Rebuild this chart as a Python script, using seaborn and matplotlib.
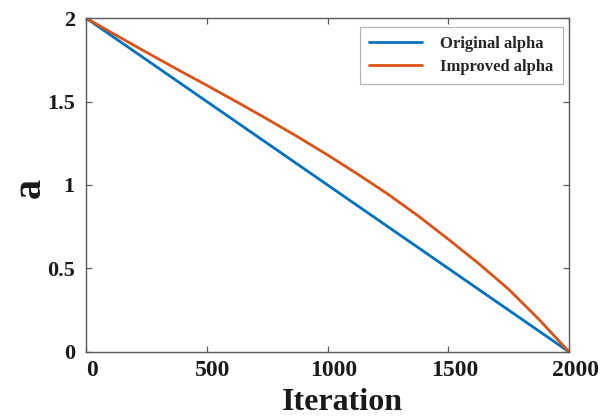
import matplotlib
matplotlib.use("Agg")
import matplotlib.pyplot as plt
from matplotlib.transforms import ScaledTranslation
import pandas as pd
import seaborn as sns

# Control parameter a over the iterations
iter_original = [0, 500, 1000, 1500, 2000]
a_original = [2.0, 1.5, 1.0, 0.5, 0.0]

iter_improved = [0, 125, 250, 375, 500, 625, 750, 875, 1000, 1125, 1250,
                 1375, 1500, 1625, 1750, 1875, 2000]
a_improved = [2.0, 1.897, 1.795, 1.695, 1.597, 1.497, 1.395, 1.29, 1.18,
              1.065, 0.945, 0.815, 0.675, 0.53, 0.375, 0.195, 0.0]

series_names = ["Original alpha", "Improved alpha"]
series_colors = ["#0072BD", "#D95319"]

xticks = [0, 500, 1000, 1500, 2000]
yticks = [0, 0.5, 1, 1.5, 2]
ytick_labels = ["0", "0.5", "1", "1.5", "2"]

df = pd.concat([
    pd.DataFrame({"Iteration": iter_original, "a": a_original, "series": series_names[0]}),
    pd.DataFrame({"Iteration": iter_improved, "a": a_improved, "series": series_names[1]}),
], ignore_index=True)

sns.set_style("white")
plt.rcParams["font.family"] = ["Liberation Serif", "DejaVu Serif"]
plt.rcParams["font.weight"] = "bold"

fig = plt.figure(figsize=(6.14, 4.19), dpi=100)
ax = fig.add_axes([0.140, 0.160, 0.787, 0.797])

sns.lineplot(data=df, x="Iteration", y="a", hue="series", hue_order=series_names,
             palette=series_colors, linewidth=2.0, ax=ax, estimator=None, sort=False)

ax.set_xlim(0, 2000)
ax.set_ylim(0, 2)
ax.set_xticks(xticks)
ax.set_xticklabels([str(t) for t in xticks])
ax.set_yticks(yticks)
ax.set_yticklabels(ytick_labels)

spine_color = "#5a5a5a"
for s in ax.spines.values():
    s.set_visible(True)
    s.set_color(spine_color)
    s.set_linewidth(1.0)

ax.tick_params(direction="in", length=4, width=0.9, color=spine_color,
               top=True, right=True, bottom=True, left=True,
               labelcolor="#1a1a1a")
ax.tick_params(axis="x", pad=6, labelsize=17)
ax.tick_params(axis="y", pad=8, labelsize=16)
for lab in ax.get_xticklabels() + ax.get_yticklabels():
    lab.set_fontweight("bold")
offset = ScaledTranslation(6 / 100, 0, fig.dpi_scale_trans)
for lab in ax.get_xticklabels():
    lab.set_transform(lab.get_transform() + offset)

ax.set_xlabel("Iteration", fontsize=23, fontweight="bold", color="#1a1a1a")
ax.xaxis.set_label_coords(0.53, -0.152)
ax.xaxis.label.set_va("center")
ax.set_ylabel("a", fontsize=29, fontweight="bold", color="#1a1a1a")
ax.yaxis.set_label_coords(-0.115, 0.49)
ax.yaxis.label.set_va("center")

leg = ax.legend(loc="upper right", bbox_to_anchor=(0.987, 0.973), borderaxespad=0,
                frameon=True, fancybox=False, edgecolor="#b0b0b0", framealpha=1,
                prop={"family": "Liberation Serif", "weight": "bold", "size": 12},
                handlelength=3.2, handletextpad=1.1, borderpad=0.55,
                labelspacing=0.4, title=None)
leg.get_frame().set_linewidth(0.8)
for line in leg.get_lines():
    line.set_linewidth(2.0)

fig.savefig("out.png", dpi=100)
